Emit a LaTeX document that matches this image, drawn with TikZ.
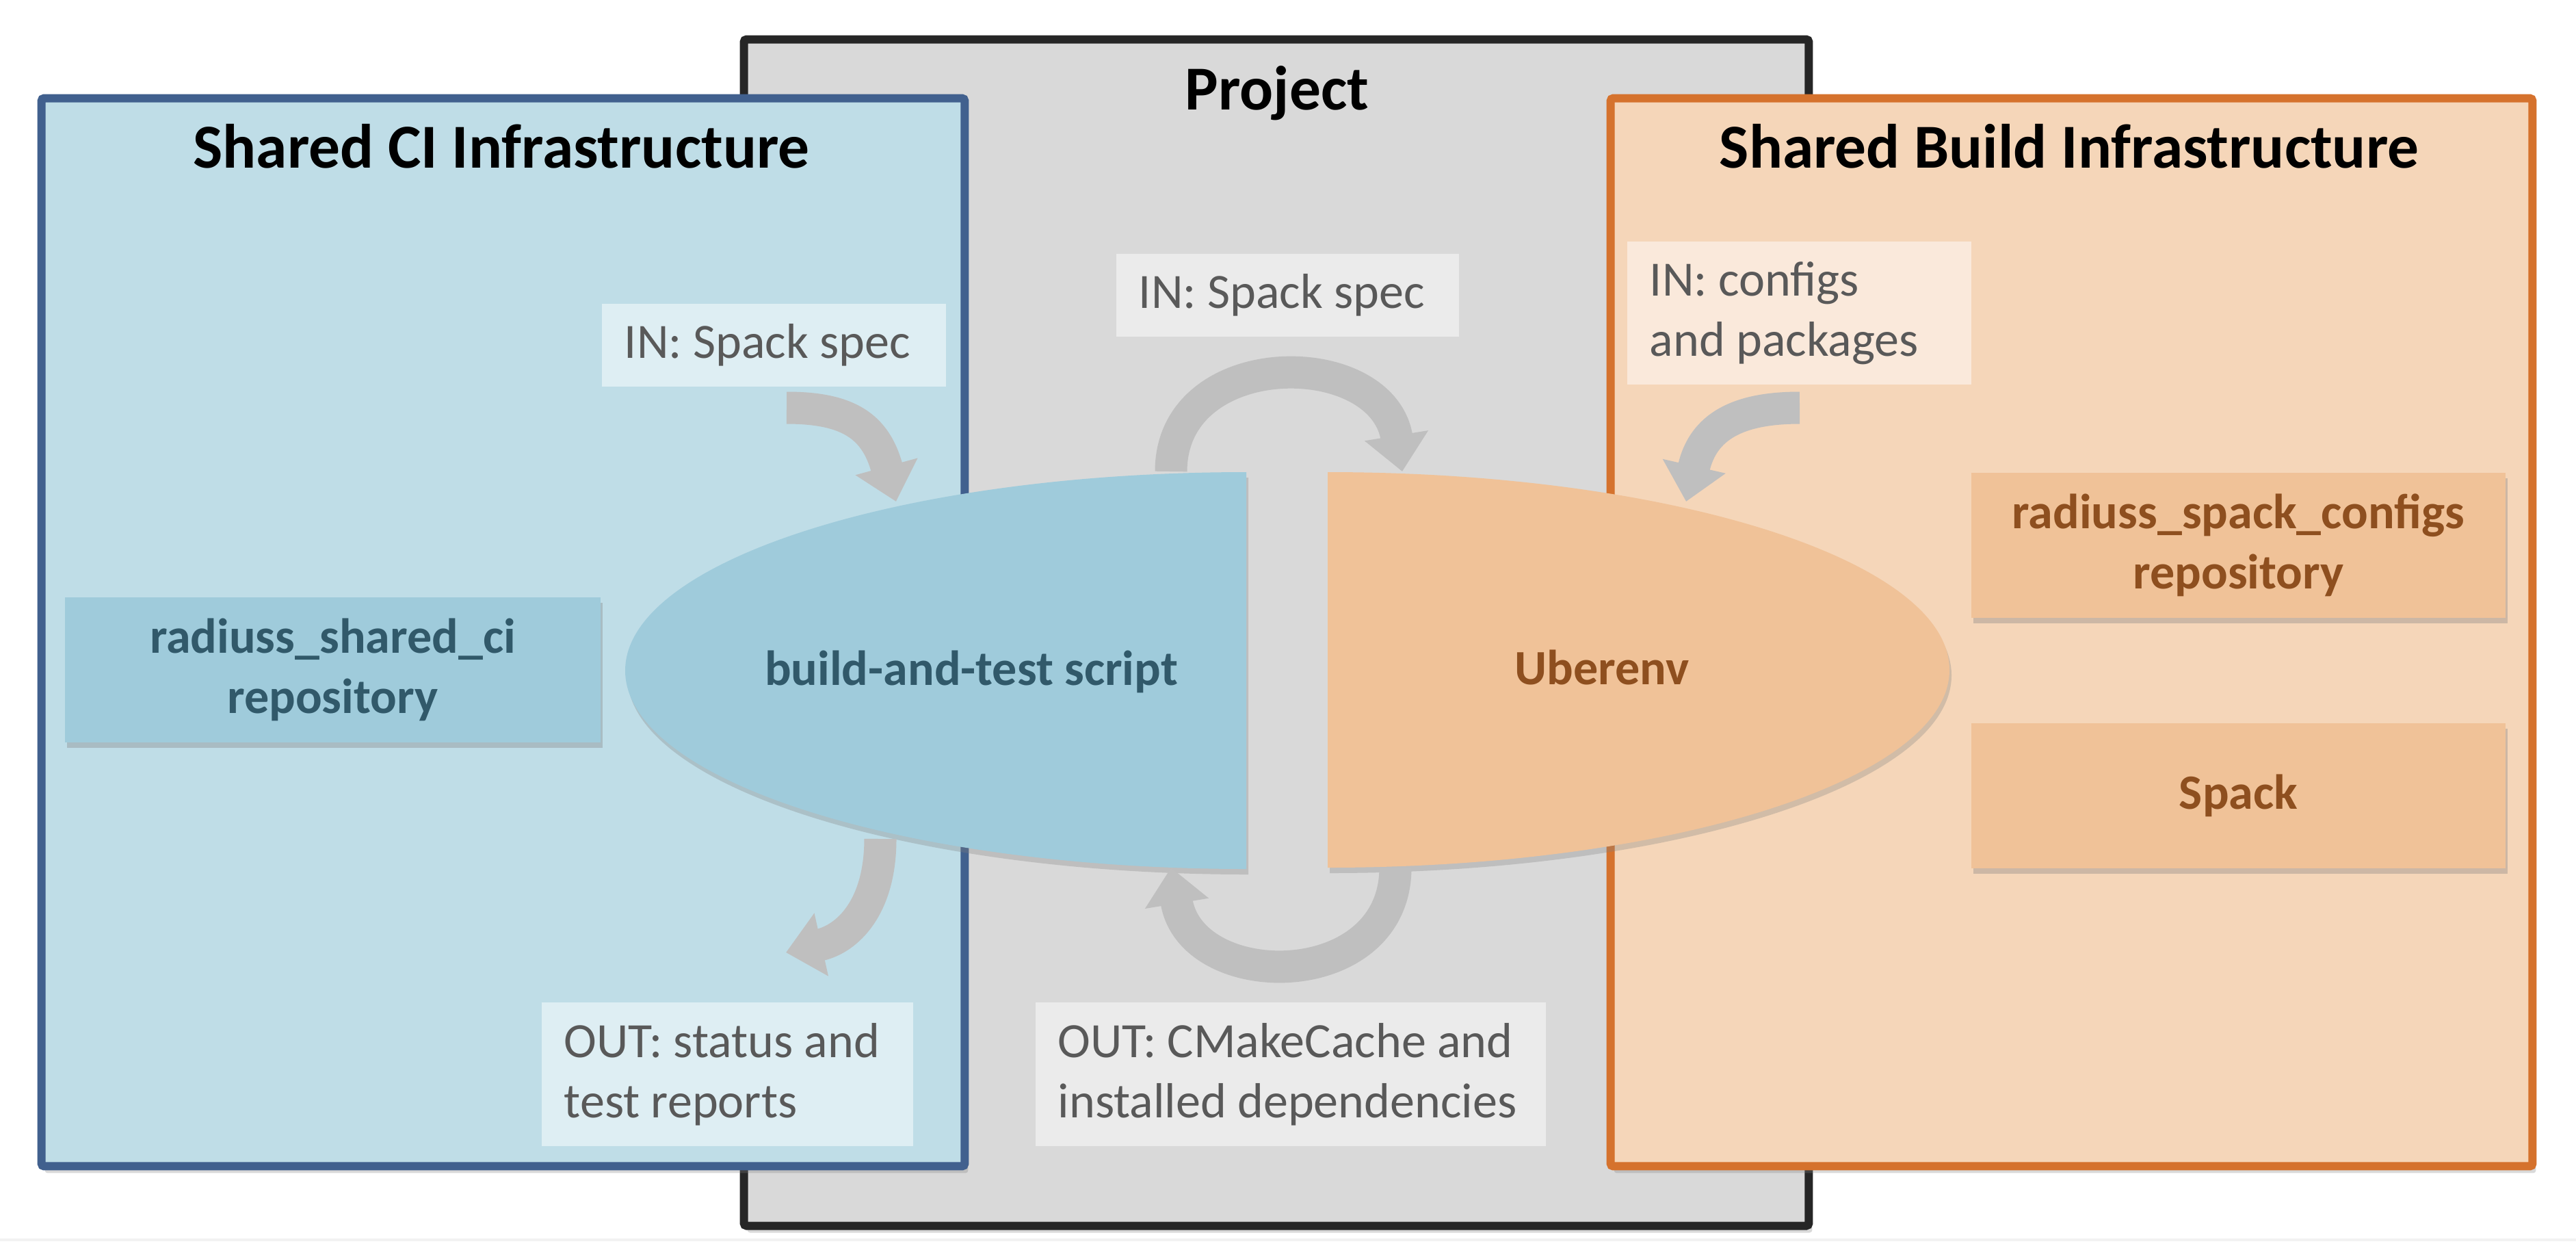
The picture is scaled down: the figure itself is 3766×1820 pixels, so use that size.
\documentclass[tikz,border=0pt]{standalone}
\usepackage{fontspec}
\setmainfont{Carlito}
\usepackage{xcolor}
\usepackage{tikz}
\usetikzlibrary{arrows.meta}
\usetikzlibrary{shadows}
\usetikzlibrary{positioning}

\definecolor{prjfill}{HTML}{D9D9D9}
\definecolor{prjline}{HTML}{262626}
\definecolor{cifill}{HTML}{BFDDE7}
\definecolor{ciline}{HTML}{41608E}
\definecolor{bldfill}{HTML}{F5D6B9}
\definecolor{bldline}{HTML}{D5722D}
\definecolor{cidark}{HTML}{9FCBDB}
\definecolor{blddark}{HTML}{F0C298}
\definecolor{citext}{HTML}{31596A}
\definecolor{bldtext}{HTML}{8E4F1F}
\definecolor{arrowgray}{HTML}{BFBFBF}
\definecolor{iotext}{HTML}{595959}
\definecolor{ciio}{HTML}{DEEEF3}
\definecolor{prjio}{HTML}{EBEBEB}
\definecolor{bldio}{HTML}{FAE9DB}

\begin{document}
\frenchspacing
\begin{tikzpicture}[
	x=0.01cm, y=-0.01cm,
	font=\fontsize{20.5}{25}\selectfont
]
\tikzset{
    bigbox/.style = {rectangle, line width=1.2mm, inner sep=0pt, outer sep=0pt, rounded corners=0.4mm,
        drop shadow={opacity=0.3, shadow xshift=0.5mm, shadow yshift=-1mm}},
    boxtitle/.style = {anchor=base, font=\fontsize{26}{31}\selectfont\bfseries},
    iobox/.style = {rectangle, text=iotext, align=flush left, inner xsep=3.3mm, inner ysep=0pt},
    repobox/.style = {rectangle, align=center, font=\fontsize{20.5}{25}\selectfont\bfseries, inner sep=0pt,
        minimum width=7.81cm, minimum height=2.12cm,
        drop shadow={opacity=0.35, shadow xshift=0.3mm, shadow yshift=-0.8mm}},
    halfell/.style = {drop shadow={opacity=0.3, shadow xshift=0.3mm, shadow yshift=-0.8mm}},
    elltext/.style = {anchor=base, font=\fontsize{20.5}{25}\selectfont\bfseries},
    flow/.style = {draw=arrowgray, line width=4.7mm, -{Triangle[width=9.1mm,length=5.3mm]}}
}
\useasboundingbox (0,0) rectangle (3766,1820);
\draw[gray!10, line width=0.4mm] (0,1812) -- (3766,1812);

\node[bigbox, draw=prjline, fill=prjfill, minimum width=15.56cm, minimum height=17.33cm] (prj) at (1866,924.5) {};
\node[bigbox, draw=ciline, fill=cifill, minimum width=13.49cm, minimum height=15.6cm] (ci) at (735.5,924) {};
\node[bigbox, draw=bldline, fill=bldfill, minimum width=13.47cm, minimum height=15.6cm] (bld) at (3028.5,924) {};

\node[boxtitle] (prjtitle) at (1867,160) {Project};
\node[boxtitle] (cititle) at (733,245) {Shared CI Infrastructure};
\node[boxtitle] (bldtitle) at (3025,245) {Shared Build Infrastructure};

\fill[cidark, halfell] (1822,1270) arc[start angle=90, end angle=270, x radius=908, y radius=290] -- cycle;
\fill[blddark, halfell] (1941,690) arc[start angle=270, end angle=450, x radius=909, y radius=289] -- cycle;
\node[elltext, text=citext] (bats) at (1420,1001) {build-and-test script};
\node[elltext, text=bldtext] (uenv) at (2342,1000) {Uberenv};

\node[repobox, fill=cidark, text=citext, minimum width=7.83cm] (cirepo) at (486.5,979) {radiuss\_shared\_ci\\repository};
\node[repobox, fill=blddark, text=bldtext] (cfgrepo) at (3272.5,797) {radiuss\_spack\_configs\\repository};
\node[repobox, fill=blddark, text=bldtext, below=1.52cm of cfgrepo] (spack) {Spack};

\node[iobox, fill=ciio, text width=4.37cm, minimum height=1.21cm] (inL) at (1131.5,504.5) {IN: Spack spec};
\node[iobox, fill=prjio, text width=4.35cm, minimum height=1.21cm] (inC) at (1882.5,431.5) {IN: Spack spec};
\node[iobox, fill=bldio, text width=4.37cm, minimum height=2.09cm] (inR) at (2630.5,457.5) {IN: configs\\and packages};
\node[iobox, fill=ciio, text width=4.77cm, minimum height=2.1cm] (outL) at (1063.5,1570) {OUT: status and\\test reports};
\node[iobox, fill=prjio, text width=6.80cm, minimum height=2.1cm] (outC) at (1887,1570) {OUT: CMakeCache and\\installed dependencies};

\coordinate (inLs) at (1150,596);
\coordinate (inLe) at (1310,733);
\coordinate (inCs) at (1712,689);
\coordinate (inCe) at (2050,689);
\coordinate (inRs) at (2631,596);
\coordinate (inRe) at (2465,733);
\coordinate (outLs) at (1287,1226);
\coordinate (outLe) at (1149,1392);
\coordinate (outCs) at (2040,1268);
\coordinate (outCe) at (1712,1268);

\draw[flow] (inLs) .. controls +(90,0) and +(-30,-110) .. (inLe);
\draw[flow] (inCs) .. controls +(0,-184) and +(-30,-184) .. (inCe);
\draw[flow] (inRs) .. controls +(-90,0) and +(25,-110) .. (inRe);
\draw[flow] (outLs) .. controls +(0,100) and +(90,-20) .. (outLe);
\draw[flow] (outCs) .. controls +(0,184) and +(30,184) .. (outCe);
\end{tikzpicture}
\end{document}
